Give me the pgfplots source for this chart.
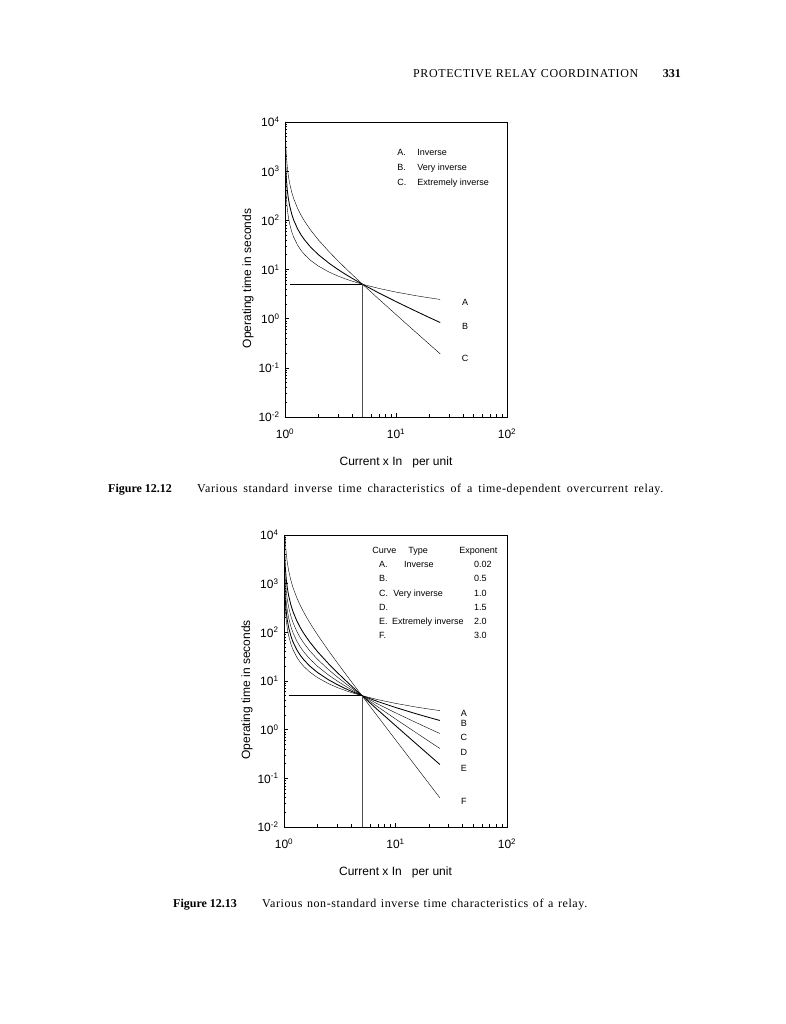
\documentclass[border=0pt]{standalone}
\usepackage{fontspec}
\setmainfont{Liberation Serif}
\setsansfont{Liberation Sans}
\usepackage{pgfplots}
\pgfplotsset{compat=1.18}

% shared look of both relay plots
\pgfplotsset{every axis/.append style={
    anchor=south west, scale only axis,
    xmin=1, xmax=100, ymin=1e-2, ymax=1e4,
    xtick={1,10,100},
    xticklabels={10\textsuperscript{0},10\textsuperscript{1},10\textsuperscript{2}},
    ytick={1e-2,1e-1,1,10,100,1000,10000},
    yticklabels={10\textsuperscript{-2},10\textsuperscript{-1},10\textsuperscript{0},10\textsuperscript{1},10\textsuperscript{2},10\textsuperscript{3},10\textsuperscript{4}},
    minor xtick={2,3,4,5,6,7,8,9,20,30,40,50,60,70,80,90},
    minor ytick={0.02,0.03,0.04,0.05,0.06,0.07,0.08,0.09,0.2,0.3,0.4,0.5,0.6,0.7,0.8,0.9,2,3,4,5,6,7,8,9,20,30,40,50,60,70,80,90,200,300,400,500,600,700,800,900,2000,3000,4000,5000,6000,7000,8000,9000},
    xtick pos=bottom, ytick pos=left, tick align=inside,
    major tick length=4pt, minor tick length=2.5pt,
    axis line style={line width=0.8pt},
    every tick/.style={black, line width=0.6pt},
    ticklabel style={font=\sffamily\fontsize{12}{14}\selectfont},
    xticklabel style={yshift=-8pt},
    yticklabel style={xshift=-2pt},
    label style={font=\sffamily\fontsize{12}{14}\selectfont},
    xlabel={Current x In\ \ \ per unit},
    ylabel={Operating time in seconds},
    cycle list={{black, line width=0.85pt, mark=none}},
  },
}
\tikzset{
  lgd/.style={font=\sffamily\fontsize{9}{11}\selectfont, inner sep=0pt},
  body/.style={anchor=base west, inner sep=0pt, font=\fontsize{12}{14}\selectfont\addfontfeature{LetterSpace=5}},
}

\begin{document}
\begin{tikzpicture}
\path[use as bounding box] (0pt,0pt) rectangle (786pt,1024pt);

% running head
\node[body] at (413pt,946pt) {\makebox[225pt][s]{PROTECTIVE RELAY COORDINATION}};
\node[anchor=base east, inner sep=0pt, font=\fontsize{12}{14}\selectfont\bfseries] at (681pt,946pt) {331};

% ---- Figure 12.12
\begin{loglogaxis}[at={(285pt,607pt)}, width=222pt, height=295pt,
    xlabel style={at={(axis description cs:0.5,-0.1525)}, anchor=center},
    ylabel style={at={(axis description cs:-0.167,0.47)}, anchor=center}]
  % A inverse
  \addplot coordinates {(1.001,8182)(1.002,4093)(1.005,1640)(1.01,821.8)(1.02,412.9)(1.03,276.6)(1.05,167.5)(1.07,120.8)(1.1,85.72)(1.15,58.43)(1.2,44.77)(1.3,31.09)(1.4,24.22)(1.5,20.09)(1.7,15.33)(2,11.72)(2.5,8.839)(3,7.356)(3.5,6.447)(4,5.818)(5,5)(7,4.121)(10,3.471)(15,2.939)(20,2.649)(25,2.460)};
  % B very inverse
  \addplot coordinates {(1.002,10000)(1.005,4000)(1.01,2000)(1.02,1000)(1.03,666.7)(1.05,400)(1.07,285.7)(1.1,200)(1.15,133.3)(1.2,100)(1.3,66.67)(1.4,50)(1.5,40)(1.7,28.57)(2,20)(2.5,13.33)(3,10)(3.5,8)(4,6.667)(5,5)(7,3.333)(10,2.222)(15,1.429)(20,1.053)(25,0.8333)};
  % C extremely inverse
  \addplot coordinates {(1.006,9970)(1.01,5970)(1.02,2970)(1.03,1970)(1.05,1171)(1.07,828.2)(1.1,571.4)(1.15,372.1)(1.2,272.7)(1.3,173.9)(1.4,125)(1.5,96)(1.7,63.49)(2,40)(2.5,22.86)(3,15)(3.5,10.67)(4,8)(5,5)(7,2.5)(10,1.212)(15,0.5357)(20,0.3008)(25,0.1923)};
  \addplot coordinates {(1.1,5)(5,5)};
  \addplot[gray!60!black, line width=0.85pt] coordinates {(5,0.01)(5,5)};

  \node[lgd, anchor=base west] at (axis description cs:0.505,0.886) {A.};
  \node[lgd, anchor=base west] at (axis description cs:0.505,0.836) {B.};
  \node[lgd, anchor=base west] at (axis description cs:0.505,0.785) {C.};
  \node[lgd, anchor=base west] at (axis description cs:0.595,0.886) {Inverse};
  \node[lgd, anchor=base west] at (axis description cs:0.595,0.836) {Very inverse};
  \node[lgd, anchor=base west] at (axis description cs:0.595,0.785) {Extremely inverse};

  \node[lgd] at (axis description cs:0.811,0.390) {A};
  \node[lgd] at (axis description cs:0.811,0.308) {B};
  \node[lgd] at (axis description cs:0.811,0.200) {C};
\end{loglogaxis}

\node[anchor=base west, inner sep=0pt, font=\fontsize{12}{14}\selectfont\bfseries] at (108pt,531pt) {Figure 12.12};
\node[body] at (197pt,531pt) {\makebox[466pt][s]{Various standard inverse time characteristics of a time-dependent overcurrent relay.}};

% ---- Figure 12.13
\begin{loglogaxis}[at={(284pt,197pt)}, width=223pt, height=292pt,
    xlabel style={at={(axis description cs:0.5,-0.154)}, anchor=center},
    ylabel style={at={(axis description cs:-0.166,0.47)}, anchor=center}]
  % A exponent 0.02
  \addplot coordinates {(1.001,8182)(1.002,4093)(1.005,1640)(1.01,821.8)(1.02,412.9)(1.03,276.6)(1.05,167.5)(1.07,120.8)(1.1,85.72)(1.15,58.43)(1.2,44.77)(1.3,31.09)(1.4,24.22)(1.5,20.09)(1.7,15.33)(2,11.72)(2.5,8.839)(3,7.356)(3.5,6.447)(4,5.818)(5,5)(7,4.121)(10,3.471)(15,2.939)(20,2.649)(25,2.460)};
  % B exponent 0.5
  \addplot coordinates {(1.0013,9511)(1.002,6183)(1.005,2475)(1.01,1239)(1.02,621.1)(1.03,415.1)(1.05,250.3)(1.07,179.6)(1.1,126.6)(1.15,85.39)(1.2,64.75)(1.3,44.09)(1.4,33.73)(1.5,27.50)(1.7,20.34)(2,14.92)(2.5,10.63)(3,8.442)(3.5,7.097)(4,6.180)(5,5)(7,3.755)(10,2.858)(15,2.151)(20,1.780)(25,1.545)};
  % C exponent 1.0
  \addplot coordinates {(1.002,10000)(1.005,4000)(1.01,2000)(1.02,1000)(1.03,666.7)(1.05,400)(1.07,285.7)(1.1,200)(1.15,133.3)(1.2,100)(1.3,66.67)(1.4,50)(1.5,40)(1.7,28.57)(2,20)(2.5,13.33)(3,10)(3.5,8)(4,6.667)(5,5)(7,3.333)(10,2.222)(15,1.429)(20,1.053)(25,0.8333)};
  % D exponent 1.5
  \addplot coordinates {(1.0034,9972)(1.005,6778)(1.01,3385)(1.02,1688)(1.03,1123)(1.05,670.4)(1.07,476.5)(1.1,331.2)(1.15,218.2)(1.2,161.8)(1.3,105.6)(1.4,77.54)(1.5,60.81)(1.7,41.84)(2,27.84)(2.5,17.24)(3,12.13)(3.5,9.175)(4,7.272)(5,5)(7,2.905)(10,1.662)(15,0.8915)(20,0.5755)(25,0.4105)};
  % E exponent 2.0
  \addplot coordinates {(1.006,9970)(1.01,5970)(1.02,2970)(1.03,1970)(1.05,1171)(1.07,828.2)(1.1,571.4)(1.15,372.1)(1.2,272.7)(1.3,173.9)(1.4,125)(1.5,96)(1.7,63.49)(2,40)(2.5,22.86)(3,15)(3.5,10.67)(4,8)(5,5)(7,2.5)(10,1.212)(15,0.5357)(20,0.3008)(25,0.1923)};
  % F exponent 3.0
  \addplot coordinates {(1.0203,9977)(1.025,8063)(1.03,6686)(1.05,3933)(1.07,2755)(1.1,1873)(1.15,1190)(1.2,851.6)(1.3,518.0)(1.4,355.5)(1.5,261.1)(1.7,158.4)(2,88.57)(2.5,42.39)(3,23.85)(3.5,14.81)(4,9.841)(5,5)(7,1.813)(10,0.6206)(15,0.1838)(20,0.07751)(25,0.03968)};
  \addplot coordinates {(1.1,5)(5,5)};
  \addplot[gray!60!black, line width=0.85pt] coordinates {(5,0.01)(5,5)};

  \node[lgd, anchor=base west] at (axis description cs:0.395,0.937) {Curve};
  \node[lgd, anchor=base] at (axis description cs:0.601,0.937) {Type};
  \node[lgd, anchor=base west] at (axis description cs:0.785,0.937) {Exponent};
  \node[lgd, anchor=base west] at (axis description cs:0.426,0.889) {A.};
  \node[lgd, anchor=base west] at (axis description cs:0.426,0.840) {B.};
  \node[lgd, anchor=base west] at (axis description cs:0.426,0.790) {C.};
  \node[lgd, anchor=base west] at (axis description cs:0.426,0.742) {D.};
  \node[lgd, anchor=base west] at (axis description cs:0.426,0.694) {E.};
  \node[lgd, anchor=base west] at (axis description cs:0.426,0.645) {F.};
  \node[lgd, anchor=base] at (axis description cs:0.605,0.889) {Inverse};
  \node[lgd, anchor=base west] at (axis description cs:0.489,0.790) {Very inverse};
  \node[lgd, anchor=base west] at (axis description cs:0.484,0.694) {Extremely inverse};
  \node[lgd, anchor=base west] at (axis description cs:0.852,0.889) {0.02};
  \node[lgd, anchor=base west] at (axis description cs:0.852,0.840) {0.5};
  \node[lgd, anchor=base west] at (axis description cs:0.852,0.790) {1.0};
  \node[lgd, anchor=base west] at (axis description cs:0.852,0.742) {1.5};
  \node[lgd, anchor=base west] at (axis description cs:0.852,0.694) {2.0};
  \node[lgd, anchor=base west] at (axis description cs:0.852,0.645) {3.0};

  \node[lgd] at (axis description cs:0.807,0.390) {A};
  \node[lgd] at (axis description cs:0.807,0.356) {B};
  \node[lgd] at (axis description cs:0.807,0.308) {C};
  \node[lgd] at (axis description cs:0.807,0.257) {D};
  \node[lgd] at (axis description cs:0.807,0.199) {E};
  \node[lgd] at (axis description cs:0.807,0.086) {F};
\end{loglogaxis}

\node[anchor=base west, inner sep=0pt, font=\fontsize{12}{14}\selectfont\bfseries] at (173pt,116pt) {Figure 12.13};
\node[body] at (262pt,116pt) {\makebox[325pt][s]{Various non-standard inverse time characteristics of a relay.}};
\end{tikzpicture}
\end{document}
